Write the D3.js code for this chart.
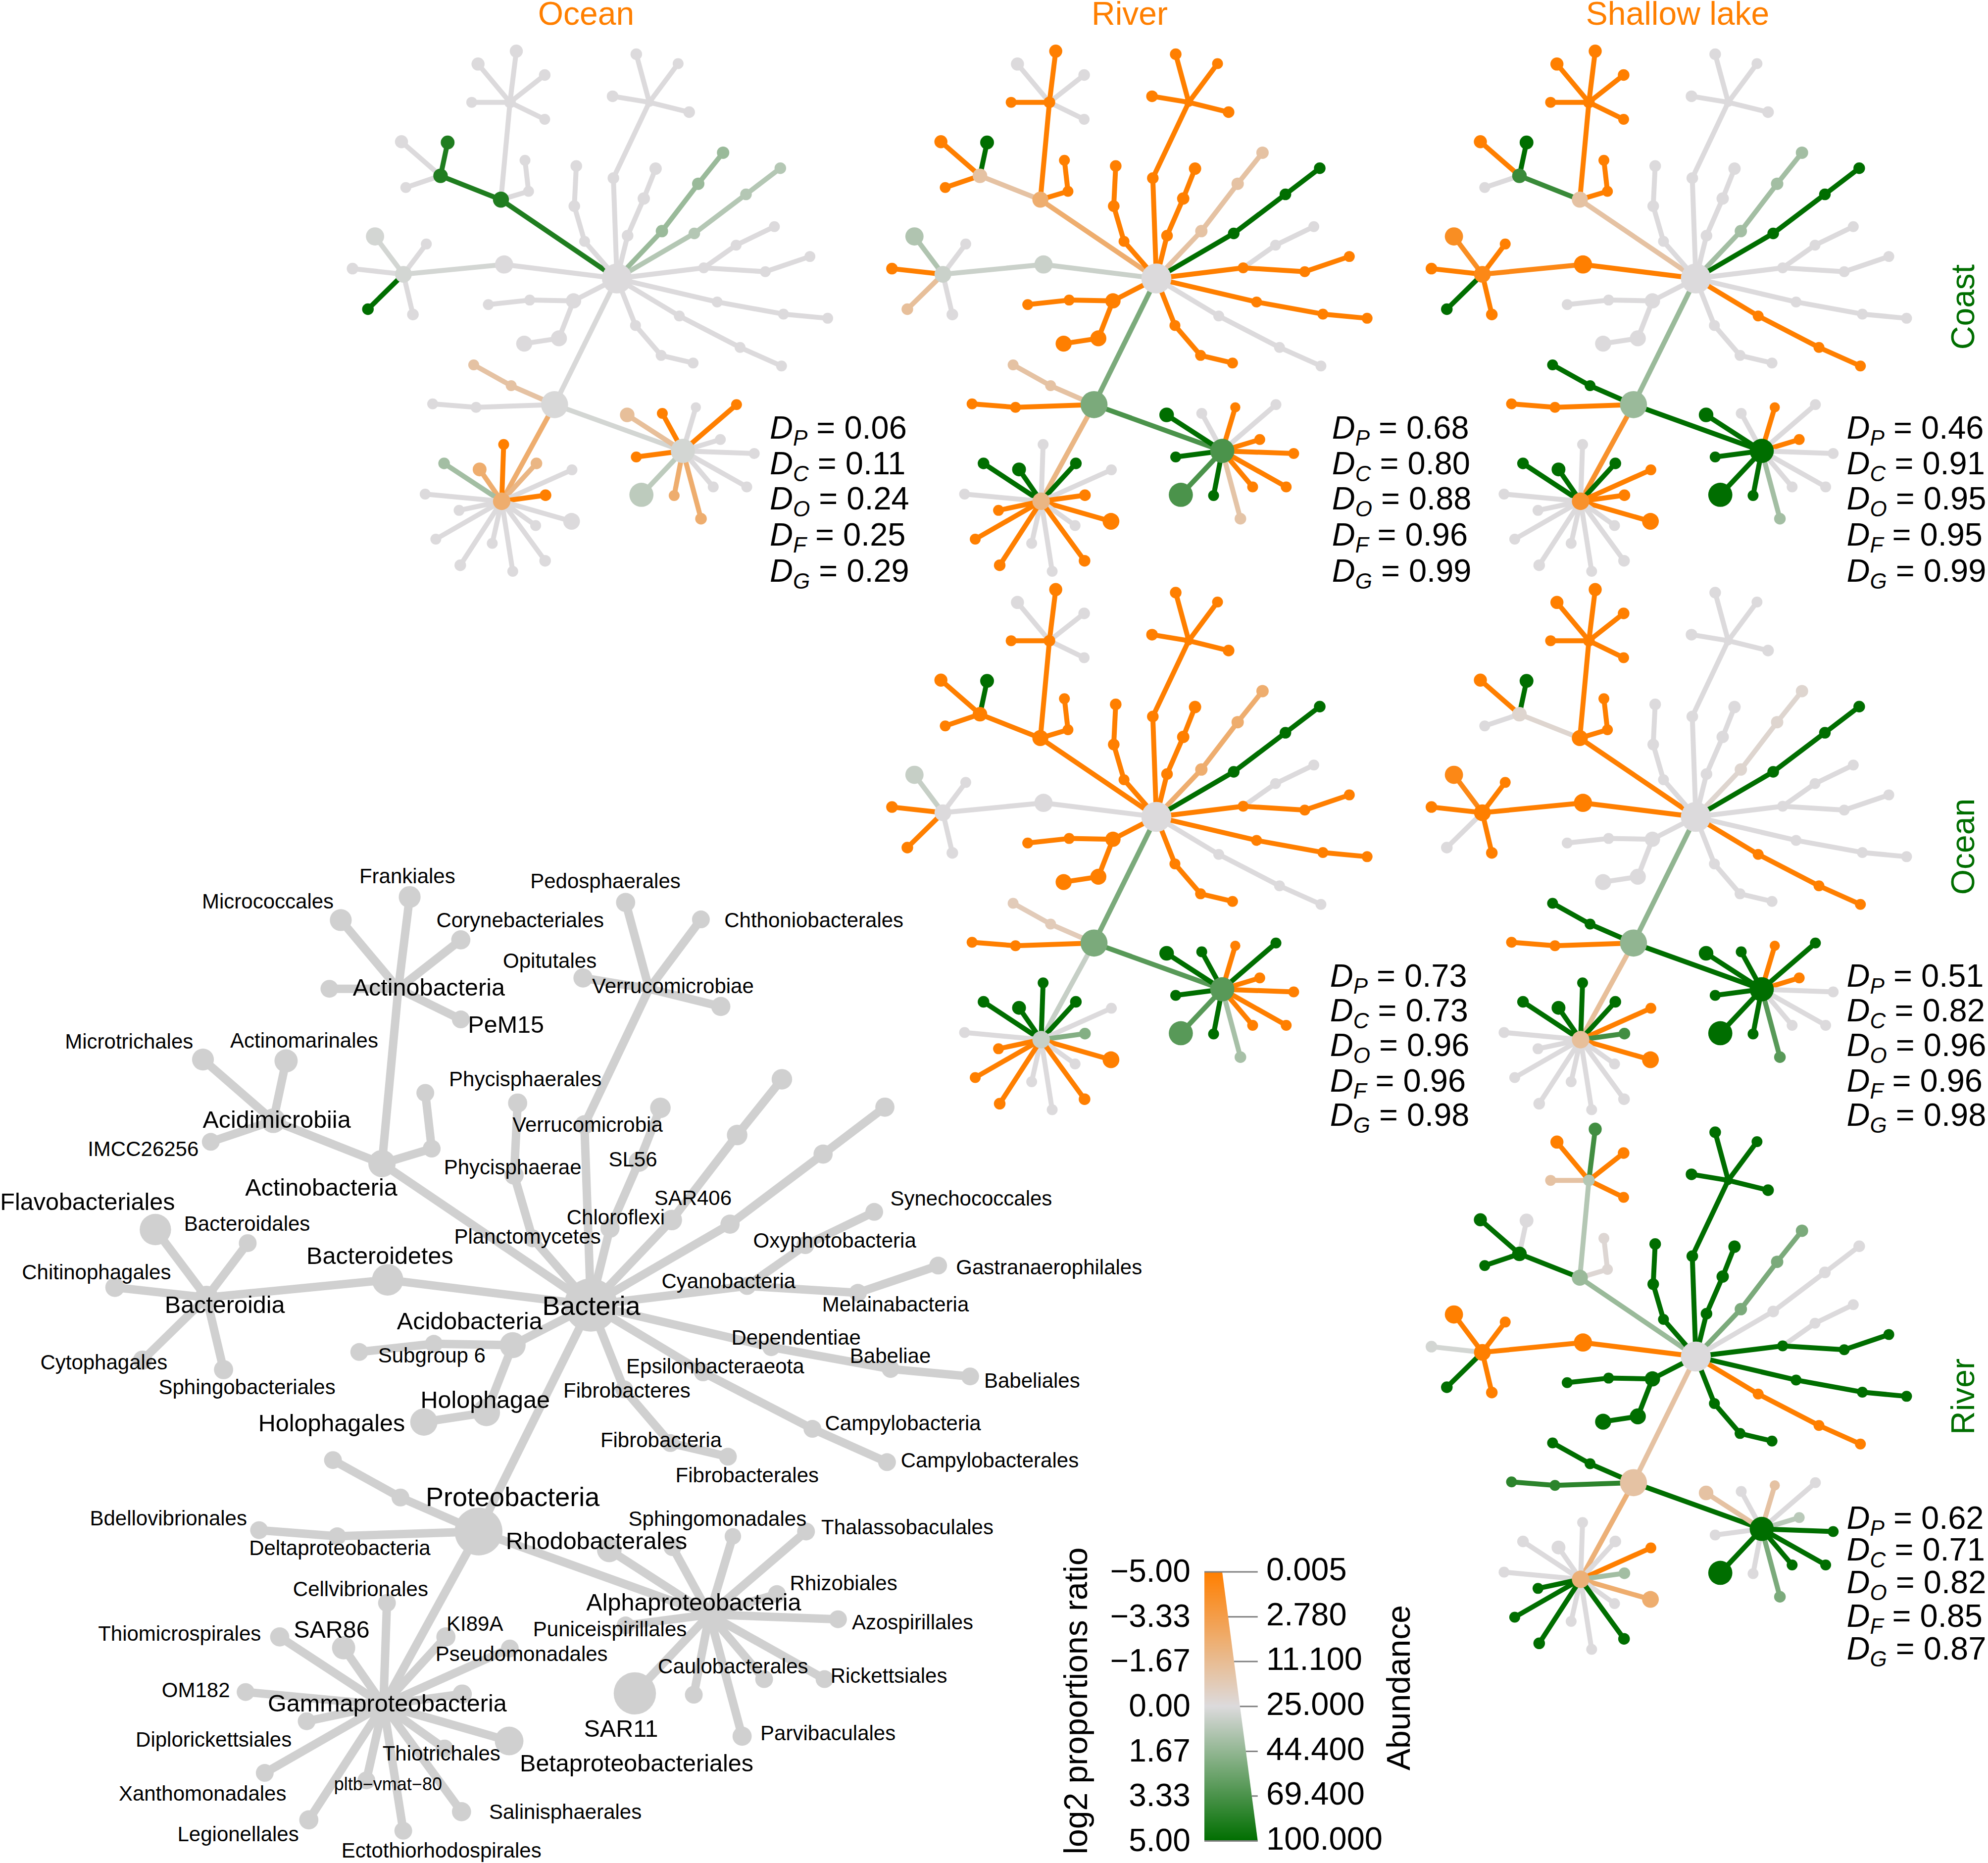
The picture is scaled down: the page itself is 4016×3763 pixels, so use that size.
<!DOCTYPE html>
<html><head><meta charset="utf-8">
<script src="https://d3js.org/d3.v7.min.js"></script>
<style>html,body{margin:0;padding:0;background:#fff}svg{display:block}text{font-family:"Liberation Sans",Arial,sans-serif}</style>
</head><body><div id="c"></div>
<script>
const W=4016,H=3763;
// taxonomy: node index = position in these arrays
const nodeParent=[-1, 0,1,2,2,2,2,2, 1,8,8,8, 1,12,
 0,14,15,15,15,15,15,
 0,21,22,21,24,
 0,26,27,
 0,29,30,30,30,30,
 0,35,36,
 0,38,39, 0,41,42,
 0,44,45,44,47,
 0,49,50, 0,52,53, 0,55,56,
 0,58,59,58,61,
 58,63,63,63,63,63,63,63,63,63,63,63,63,
 58,76,76,76,76,76,76,76,76,76,76,76,76,76,76,76];
// tree layout coordinates (arbitrary layout units)
const layoutX=[748, 454,477,396,493,565,380,565, 301,202,319,213, 524,515,
 462,207,135,265,78,117,231,
 638,527,422,601,513,
 666,640,645,
 739,830,797,903,737,931,
 775,816,846,
 862,954,1017, 944,1075,1162,
 968,1050,1147,1124,1237,
 1002,1170,1282, 906,1060,1165, 795,860,941,
 590,480,385,391,281,
 915,774,863,948,1051,1010,1096,1077,992,961,893,810,797,
 456,461,400,544,310,634,567,262,348,633,542,289,432,484,351,566];
const layoutY=[735, 527,270,169,135,198,270,315, 464,374,376,495, 505,423,
 698,724,624,644,709,816,830,
 794,792,804,893,907,
 637,544,438,
 470,270,143,168,254,296,
 622,524,445,
 610,485,403, 616,513,444,
 707,647,598,717,677,
 797,829,840, 834,917,966, 859,938,958,
 1068,1018,963,1075,1066,
 1190,1095,1091,1075,1068,1160,1197,1285,1285,1369,1308,1306,1206,
 1323,1173,1239,1223,1223,1240,1307,1304,1347,1376,1387,1423,1434,1508,1492,1480];
const nodeSize=[38, 19,13,15,15,13,12,12, 17,15,16,12, 12,12,
 22,20,22,12,13,13,13,
 18,12,12,19,19,
 12,13,13,
 13,10,13,12,13,13,
 13,14,14,
 14,14,14, 13,13,13,
 12,12,12,12,12,
 12,12,12, 12,12,12, 12,12,12,
 34,12,12,12,12,
 30,17,12,11,12,12,12,12,12,13,12,30,12,
 21,12,16,13,13,12,13,12,12,20,12,12,12,12,13,13];
const coastOcean=[0, 4.3,0,0,0,0,0,0, 4.3,0,4.3,0, 0,0,
 0,0.2,0.2,0,0,5,0,
 0,0,0,0,0,
 0,0,0,
 0,0,0,0,0,0,
 0,0,0,
 1.5,1.5,1.5, 0.9,0.9,0.9,
 0,0,0,0,0,
 0,0,0, 0,0,0, 0,0,0,
 0.1,-1.3,-1.3,0,0,
 0.2,-1.5,-5,0,-5,0,0,0,0,-2.5,-2.5,0.7,-5,
 -2.5,-5,-2.5,-2,1.3,0,-5,0,0,0,0,0,0,0,0,0];
const coastRiver=[0, -2.5,-5,0,-5,0,-5,0, -1.3,-5,5,-5, -5,-5,
 0.4,0.4,1,0,-5,-1.5,0,
 -5,-5,-5,-5,-5,
 -5,-5,-5,
 -5,-5,-5,-5,-5,-5,
 -5,-5,-5,
 -1.3,-1.3,-1.3, 5,5,5,
 -5,0,0,-5,-5,
 -5,-5,-5, 0,0,0, -5,-5,-5,
 2.2,-1.3,-1.3,-5,-5,
 3.3,5,0,-5,0,-5,-5,-5,-5,-1.2,5,3.3,5,
 -2,0,5,5,5,0,-5,0,-5,-5,0,-5,0,0,-5,-5];
const coastShallow=[0, -1.3,-5,-5,-5,-5,-5,-5, 3.7,-5,5,0, -5,-5,
 -5,-4.5,-4.2,-5,-5,5,-5,
 0,0,0,0,0,
 0,0,0,
 0,0,0,0,0,0,
 0,0,0,
 1.3,1.3,1.3, 5,5,5,
 0,0,0,0,0,
 0,0,0, -5,-5,-5, 0,0,0,
 1.5,5,5,-5,-5,
 5,5,0,-5,0,-5,0,0,0,1.3,5,5,5,
 -4,0,5,5,5,-5,-5,0,0,-5,0,0,0,0,0,0];
const oceanRiver=[0, -5,-5,0,-5,0,-5,0, -5,-5,5,-5, -5,-5,
 0,0,0.5,0,-5,-5,0,
 -5,-5,-5,-5,-5,
 -5,-5,-5,
 -5,-5,-5,-5,-5,-5,
 -5,-5,-5,
 -2.5,-2.5,-2.5, 5,5,5,
 -5,0,0,-5,-5,
 -5,-5,-5, 0,0,0, -5,-5,-5,
 2.2,-0.8,-0.8,-5,-5,
 3,5,5,-5,5,-5,-5,-5,-5,1.2,5,3,5,
 0.5,5,5,5,5,0,2,0,-5,-5,0,-5,0,0,-5,-5];
const oceanShallow=[0, -5,-5,-5,-5,-5,-5,-5, -0.3,-5,5,0, -5,-5,
 -5,-5,-4.5,-5,-5,0,-5,
 0,0,0,0,0,
 0,0,0,
 0,0,0,0,0,0,
 0,0,0,
 -0.3,-0.3,-0.3, 5,5,5,
 0,0,0,0,0,
 0,0,0, -5,-5,-5, 0,0,0,
 1.7,5,5,-5,-5,
 5,5,5,-5,5,-5,0,0,0,3,5,5,5,
 -1.5,5,5,5,5,-5,3.5,0,0,-5,0,0,0,0,0,0];
const riverShallow=[0, 1.5,0.9,-5,3.5,-5,-1.3,-5, 5,5,0,5, -0.2,-0.2,
 -5,-5,-5,-5,0.2,5,-5,
 5,5,5,5,5,
 5,5,5,
 5,5,5,5,5,5,
 5,5,5,
 2.2,2.2,2.2, 0,0,0,
 5,0,0,5,5,
 5,5,5, -5,-5,-5, 5,5,5,
 -1.3,5,5,4,4,
 5,-1.3,0,-1.3,0,0.8,5,5,5,2.2,0,5,0,
 -2.3,0,0,0,0,-5,1.3,0,5,-2.5,0,5,0,0,5,5];
// panel statistics
const statKeys=["P","C","O","F","G"];
const statsCoastOcean=["0.06","0.11","0.24","0.25","0.29"];
const statsCoastRiver=["0.68","0.80","0.88","0.96","0.99"];
const statsCoastShallow=["0.46","0.91","0.95","0.95","0.99"];
const statsOceanRiver=["0.73","0.73","0.96","0.96","0.98"];
const statsOceanShallow=["0.51","0.82","0.96","0.96","0.98"];
const statsRiverShallow=["0.62","0.71","0.82","0.85","0.87"];
const colTitles=["Ocean","River","Shallow lake"];
const rowTitles=["Coast","Ocean","River"];
// legend
const legendRatioTicks=[-5,-3.33,-1.67,0,1.67,3.33,5];
const legendRatioLabels=["−5.00","−3.33","−1.67","0.00","1.67","3.33","5.00"];
const legendAbundanceLabels=["0.005","2.780","11.100","25.000","44.400","69.400","100.000"];
// key tree labels
const keyNames=["Frankiales","Micrococcales","Corynebacteriales","Pedosphaerales","Chthoniobacterales","Opitutales","Verrucomicrobiae","Actinobacteria","PeM15","Microtrichales","Actinomarinales","Phycisphaerales","Acidimicrobiia","IMCC26256","Verrucomicrobia","SL56","Phycisphaerae","Actinobacteria","Flavobacteriales","SAR406","Synechococcales","Chloroflexi","Bacteroidales","Planctomycetes","Oxyphotobacteria","Bacteroidetes","Gastranaerophilales","Chitinophagales","Cyanobacteria","Bacteria","Bacteroidia","Melainabacteria","Acidobacteria","Dependentiae","Subgroup 6","Babeliae","Cytophagales","Epsilonbacteraeota","Babeliales","Sphingobacteriales","Fibrobacteres","Holophagae","Holophagales","Campylobacteria","Fibrobacteria","Campylobacterales","Fibrobacterales","Proteobacteria","Bdellovibrionales","Sphingomonadales","Thalassobaculales","Rhodobacterales","Deltaproteobacteria","Rhizobiales","Cellvibrionales","Alphaproteobacteria","Azospirillales","KI89A","Puniceispirillales","SAR86","Thiomicrospirales","Pseudomonadales","Caulobacterales","Rickettsiales","OM182","Gammaproteobacteria","SAR11","Parvibaculales","Diplorickettsiales","Thiotrichales","Betaproteobacteriales","pltb−vmat−80","Xanthomonadales","Salinisphaerales","Legionellales","Ectothiorhodospirales"];
const keyLabelX=[549,361,701,816,1097,741,907,578,682,174,410,708,373,193,792,853,691,433,118,934,1309,830,333,711,1125,512,1414,130,982,797,303,1207,633,1073,582,1200,140,964,1391,333,845,654,447,1217,891,1334,1007,691,227,967,1223,804,458,1137,486,935,1230,640,822,447,242,703,988,1198,264,522,837,1116,288,595,858,523,273,762,321,595];
const keyLabelY=[52,91,120,60,120,182,221,223,280,306,305,364,426,471,434,487,499,530,552,546,547,576,586,606,612,635,653,660,674,712,710,710,735,761,788,789,799,805,827,837,842,856,892,892,918,949,972,1005,1038,1039,1052,1073,1084,1138,1147,1167,1198,1200,1208,1209,1215,1246,1265,1280,1302,1322,1361,1368,1378,1399,1414,1446,1461,1489,1523,1548];
const keyLabelBig=new Set(["Actinobacteria","Acidimicrobiia","Flavobacteriales","Bacteroidetes","Bacteroidia","Acidobacteria","Holophagae","Holophagales","Rhodobacterales","Alphaproteobacteria","Gammaproteobacteria","Betaproteobacteriales","SAR86","SAR11","PeM15"]);
const keyLabelHuge=new Set(["Bacteria","Proteobacteria"]);

const svg=d3.select("#c").append("svg").attr("width",W).attr("height",H).attr("viewBox",`0 0 ${W} ${H}`);
svg.append("rect").attr("width",W).attr("height",H).attr("fill","#fff");

const ORANGE="#FF7F00",GREY="#DCDADC",GREEN="#006E00";
const ratioColor=d3.scaleLinear().domain([-5,0,5]).range([ORANGE,GREY,GREEN]).interpolate(d3.interpolateRgb).clamp(true);
const XU=1.2544,YU=1.3067;
const rootX=layoutX[0],rootY=layoutY[0];

function drawTree(g,px,py,k,ky,widthEdge,colorOf,radius){
  const x=d3.scaleLinear().domain([rootX,rootX+XU]).range([px,px+k]);
  const y=d3.scaleLinear().domain([rootY,rootY+YU]).range([py,py+ky]);
  const idx=d3.range(nodeParent.length);
  g.selectAll("line.e").data(idx.filter(i=>nodeParent[i]>=0)).join("line").attr("class","e")
    .attr("x1",i=>x(layoutX[nodeParent[i]])).attr("y1",i=>y(layoutY[nodeParent[i]]))
    .attr("x2",i=>x(layoutX[i])).attr("y2",i=>y(layoutY[i]))
    .attr("stroke",colorOf).attr("stroke-width",widthEdge);
  g.selectAll("circle.n").data(idx).join("circle").attr("class","n")
    .attr("cx",i=>x(layoutX[i])).attr("cy",i=>y(layoutY[i])).attr("r",radius).attr("fill",colorOf);
}
const panelRadius=d3.scaleLinear().domain([12,38]).range([11,30.3]);
const keyRadius=d3.scaleLinear().domain([12,38]).range([18,53.7]);
const panels=[
 {v:coastOcean,s:statsCoastOcean,x:1246.3,y:562.5,tx:1555,b:[886,958,1029,1102,1175]},
 {v:coastRiver,s:statsCoastRiver,x:2336,y:562.5,tx:2690.7,b:[886,958,1029,1102,1175]},
 {v:coastShallow,s:statsCoastShallow,x:3425.8,y:562.5,tx:3730.6,b:[886,958,1029,1102,1175]},
 {v:oceanRiver,s:statsOceanRiver,x:2336,y:1650,tx:2686.7,b:[1993,2063,2133,2205,2274]},
 {v:oceanShallow,s:statsOceanShallow,x:3425.8,y:1650,tx:3730.6,b:[1993,2063,2133,2205,2274]},
 {v:riverShallow,s:statsRiverShallow,x:3425.8,y:2740,tx:3730.6,b:[3087.5,3152,3218,3285.6,3352]}
];
panels.forEach(p=>{
  const g=svg.append("g");
  drawTree(g,p.x,p.y,1,1,10,i=>ratioColor(p.v[i]),i=>panelRadius(nodeSize[i]));
  statKeys.forEach((k,j)=>{
    const t=g.append("text").attr("x",p.tx).attr("y",p.b[j]).attr("font-size",65).attr("fill","#000").attr("xml:space","preserve");
    t.append("tspan").attr("font-style","italic").text("D");
    t.append("tspan").attr("font-style","italic").attr("font-size",44).attr("dy",14).text(k);
    t.append("tspan").attr("dy",-14).text(" = "+p.s[j]);
  });
});
// key tree
const keyG=svg.append("g");
const keyR={2:10,15:24,63:22,76:16,30:10};
drawTree(keyG,1193.5,2636,1.8,1.795,17,()=>"#D0D0D0",i=>keyR[i]!==undefined?keyR[i]:keyRadius(nodeSize[i]));
const keyX=d3.scaleLinear().domain([0,2350*0.6672]).range([0,2350]);
const keyY=d3.scaleLinear().domain([0,2063*0.76]).range([1700,3763]);
const keyFont=d=>keyLabelHuge.has(d)?54:keyLabelBig.has(d)?48.5:d.startsWith("pltb")?36:42;
keyG.selectAll("text").data(keyNames).join("text")
 .attr("x",(d,i)=>keyX(keyLabelX[i])).attr("text-anchor","middle")
 .attr("font-size",keyFont)
 .attr("y",(d,i)=>keyY(keyLabelY[i])+keyFont(d)*0.36)
 .attr("fill","#000").text(d=>d);
// titles
const titleX=[1184,2282,3389];
svg.selectAll("text.ct").data(colTitles).join("text").attr("class","ct").attr("x",(d,i)=>titleX[i]).attr("y",50)
 .attr("text-anchor","middle").attr("font-size",66).attr("fill",ORANGE).text(d=>d);
const titleY=[620,1710,2821];
svg.selectAll("text.rt").data(rowTitles).join("text").attr("class","rt")
 .attr("transform",(d,i)=>`translate(3988,${titleY[i]}) rotate(-90)`)
 .attr("text-anchor","middle").attr("font-size",66).attr("fill",GREEN).text(d=>d);
// legend
const ly=d3.scaleLinear().domain([-5,5]).range([3175,3718.5]);
const wedge=d3.scaleLinear().domain([-5,5]).range([2469,2540.8]);
const defs=svg.append("defs");
const grad=defs.append("linearGradient").attr("id","lg").attr("x1",0).attr("x2",0).attr("y1",0).attr("y2",1);
d3.range(0,21).forEach(k=>{const v=-5+k/2;grad.append("stop").attr("offset",k/20).attr("stop-color",ratioColor(v));});
const lg=svg.append("g");
lg.append("path").attr("d",`M2433,${ly(-5)}L${wedge(-5)},${ly(-5)}L${wedge(5)},${ly(5)}L2433,${ly(5)}Z`).attr("fill","url(#lg)");
lg.selectAll("line.t").data(legendRatioTicks).join("line").attr("class","t")
 .attr("x1",(d,i)=>(i===0||i===6)?2433:wedge(d)).attr("x2",2540.8).attr("y1",d=>ly(d)).attr("y2",d=>ly(d))
 .attr("stroke","#808080").attr("stroke-width",3);
lg.selectAll("text.l").data(legendRatioTicks).join("text").attr("class","l").attr("x",2404.8).attr("y",d=>ly(d)+20)
 .attr("text-anchor","end").attr("font-size",64).text((d,i)=>legendRatioLabels[i]);
lg.selectAll("text.r").data(legendRatioTicks).join("text").attr("class","r").attr("x",2558).attr("y",d=>ly(d)+17)
 .attr("font-size",65).text((d,i)=>legendAbundanceLabels[i]);
lg.append("text").attr("transform","translate(2196,3435.6) rotate(-90)").attr("text-anchor","middle").attr("font-size",66).text("log2 proportions ratio");
lg.append("text").attr("transform","translate(2848,3409) rotate(-90)").attr("text-anchor","middle").attr("font-size",66).text("Abundance");
if(nodeParent.length!==92||layoutX.length!==92||layoutY.length!==92||nodeSize.length!==92||panels.some(p=>p.v.length!==92)||keyNames.length!==keyLabelX.length||keyNames.length!==keyLabelY.length)
  throw new Error("length mismatch");
</script></body></html>
